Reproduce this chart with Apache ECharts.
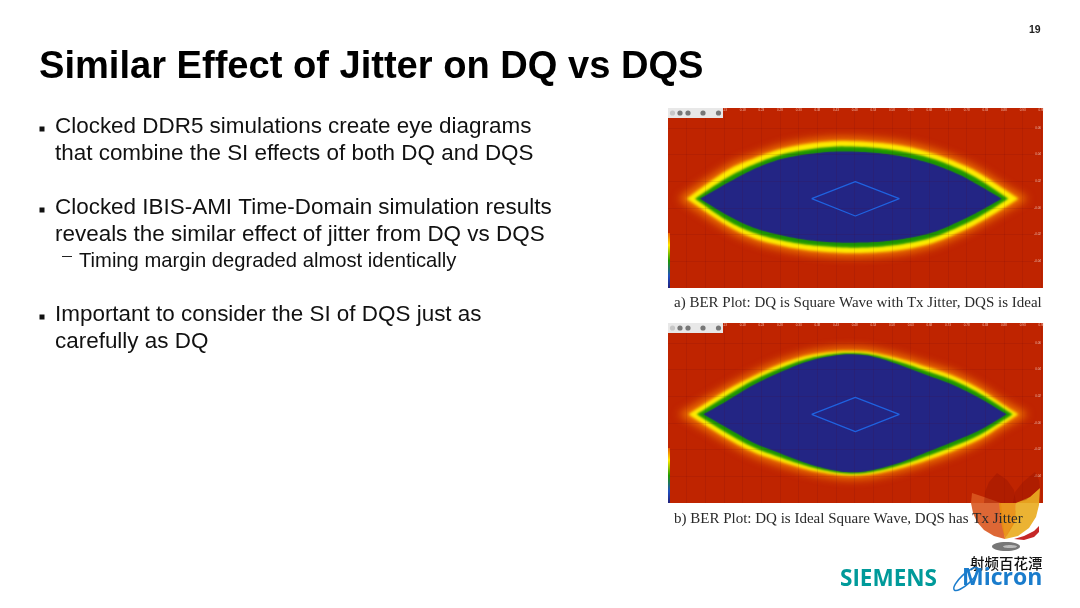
<!DOCTYPE html>
<html><head><meta charset="utf-8">
<style>html,body{margin:0;padding:0;background:#fff}
#p,#c{position:absolute;left:0;top:0;width:1080px;height:608px}
#p{filter:blur(0.5px)}</style>
<script src="https://cdn.jsdelivr.net/npm/echarts@6/dist/echarts.min.js"></script>
</head><body><div id="p"></div><div id="c"></div>
<script>
// Plot a: contour tables [time positions, upper edge, lower edge]
const aOrangeX=[5,150,230,310,390,470,536,610,690,770,850,910,975,1055];
const aOrangeTop=[20,118,152,180,196,204,204,199,188,168,138,108,66,20];
const aOrangeBot=[20,-74,-110,-132,-146,-153,-155,-152,-143,-124,-92,-62,-25,20];
const aYellowX=[30,150,230,310,390,470,536,610,690,770,850,910,975,1025];
const aYellowTop=[20,104,140,168,184,192,192,187,176,155,125,95,53,20];
const aYellowBot=[20,-60,-98,-120,-134,-141,-143,-140,-131,-112,-80,-50,-12,20];
const aGreenX=[55,150,230,310,390,470,536,610,690,770,850,910,995];
const aGreenTop=[20,82,122,151,167,176,176,171,159,139,108,76,20];
const aGreenBot=[20,-45,-82,-104,-118,-125,-127,-124,-114,-96,-63,-33,20];
const aBlueX=[70,150,230,310,390,470,536,610,690,770,850,910,975];
const aBlueTop=[20,66,108,138,153,161,161,156,144,123,91,58,20];
const aBlueBot=[20,-29,-67,-89,-104,-111,-112,-109,-99,-81,-47,-17,20];
const aMaskX=[405,536,668,536,405];
const aMaskY=[20,71,20,-32,20];
// Plot b
const bOrangeX=[5,150,230,310,390,470,530,590,670,750,830,910,975,1055];
const bOrangeTop=[18,103,145,180,205,217,219,214,196,172,146,106,63,18];
const bOrangeBot=[18,-67,-108,-136,-158,-173,-177,-172,-155,-132,-104,-69,-28,18];
const bYellowX=[35,150,230,310,390,470,530,590,670,750,830,910,975,1025];
const bYellowTop=[18,90,132,168,194,206,208,203,184,160,133,93,50,18];
const bYellowBot=[18,-54,-95,-123,-147,-162,-166,-161,-144,-120,-91,-56,-15,18];
const bGreenX=[60,150,230,310,390,470,530,590,670,750,830,910,1008];
const bGreenTop=[18,74,120,156,184,199,202,196,175,148,120,80,18];
const bGreenBot=[18,-38,-81,-111,-137,-155,-160,-154,-135,-108,-78,-43,18];
const bBlueX=[80,150,230,310,390,470,530,590,670,750,830,910,990];
const bBlueTop=[18,58,106,144,176,194,198,191,166,136,106,66,18];
const bBlueBot=[18,-22,-67,-99,-129,-150,-156,-149,-127,-96,-64,-29,18];
const bMaskX=[405,536,668,536,405];
const bMaskY=[18,69,18,-34,18];
// Text
const titleText="Similar Effect of Jitter on DQ vs DQS";
const bullets=[["Clocked DDR5 simulations create eye diagrams",126,1],["that combine the SI effects of both DQ and DQS",153,0],
["Clocked IBIS-AMI Time-Domain simulation results",207,1],["reveals the similar effect of jitter from DQ vs DQS",234,0],
["Important to consider the SI of DQS just as",314,1],["carefully as DQ",341,0]];
const subBullet="Timing margin degraded almost identically";
const captionA="a) BER Plot: DQ is Square Wave with Tx Jitter, DQS is Ideal";
const captionB="b) BER Plot: DQ is Ideal Square Wave, DQS has Tx Jitter";

const SANS='"Liberation Sans",Arial,sans-serif';
// contour colour and softness of its edge; the shape sits off to the side and only its soft shadow is shown
const paint=[['#f07800',8],['#ffee00',3],['#1c9600',2.5],['#232584',1.2]];
const SHIFT=3000;
function spline(pts){
  const out=[];
  for(let i=0;i<pts.length-1;i++){
    const p0=pts[Math.max(i-1,0)],p1=pts[i],p2=pts[i+1],p3=pts[Math.min(i+2,pts.length-1)];
    for(let s=0;s<8;s++){
      const t=s/8,t2=t*t,t3=t2*t;
      out.push([0,1].map(d=>0.5*(2*p1[d]+(p2[d]-p0[d])*t+(2*p0[d]-5*p1[d]+4*p2[d]-p3[d])*t2+(3*p1[d]-p0[d]-3*p2[d]+p3[d])*t3)));
    }
  }
  out.push(pts[pts.length-1]);
  return out;
}
function eye(g,tables){
  return {type:'custom',xAxisIndex:g,yAxisIndex:g,clip:false,silent:true,coordinateSystem:'cartesian2d',
    data:tables.map((t,i)=>[t[0][0],t[1][0],i]),encode:{x:0,y:1},
    renderItem(params,api){
      const i=params.dataIndex,[xs,top,bot]=tables[i],[fill,blur]=paint[i];
      const upper=spline(xs.map((x,k)=>api.coord([x,top[k]])));
      const lower=spline(xs.map((x,k)=>api.coord([x,bot[k]]))).reverse();
      return {type:'polygon',x:-SHIFT,shape:{points:upper.concat(lower)},
        style:{fill,shadowColor:fill,shadowBlur:blur,shadowOffsetX:SHIFT}};
    }};
}
const series=[
  eye(0,[[aOrangeX,aOrangeTop,aOrangeBot],[aYellowX,aYellowTop,aYellowBot],[aGreenX,aGreenTop,aGreenBot],[aBlueX,aBlueTop,aBlueBot]]),
  eye(1,[[bOrangeX,bOrangeTop,bOrangeBot],[bYellowX,bYellowTop,bYellowBot],[bGreenX,bGreenTop,bGreenBot],[bBlueX,bBlueTop,bBlueBot]])];
[[0,aMaskX,aMaskY],[1,bMaskX,bMaskY]].forEach(([g,xs,ys])=>series.push({type:'line',xAxisIndex:g,yAxisIndex:g,silent:true,z:6,
  data:xs.map((x,i)=>[x,ys[i]]),symbol:'none',lineStyle:{color:'#1f62e0',width:1.2}}));

const gridLine={show:true,lineStyle:{color:'rgba(90,0,20,0.1)',width:1},showMaxLine:false,showMinLine:false};
const lab={inside:true,fontSize:3,color:'rgba(255,215,200,0.8)',fontFamily:SANS,showMaxLabel:false,showMinLabel:false};
const xAx=g=>({type:'value',gridIndex:g,position:'top',min:-26,max:1099,interval:56,z:5,axisLine:{show:false},axisTick:{show:false},splitLine:gridLine,
  axisLabel:{...lab,margin:1,formatter:v=>(v/56*0.05).toFixed(2)}});
const yAx=g=>({type:'value',gridIndex:g,position:'right',min:-248,max:292,interval:80,z:5,axisLine:{show:false},axisTick:{show:false},splitLine:gridLine,
  axisLabel:{...lab,margin:2,formatter:v=>(v/4000).toFixed(2)}});

const plotGfx=[];
[108,323].forEach(top=>{
  plotGfx.push({type:'rect',z:-20,silent:true,shape:{x:668,y:top,width:375,height:180},style:{fill:'#bf2400'}});
  plotGfx.push({type:'rect',z:40,silent:true,shape:{x:668,y:top,width:55,height:10},style:{fill:'#e8e8e8'}});
  [[672.5,.3],[680,1],[688,1],[703,1],[718.5,1]].forEach(([x,o])=>plotGfx.push({type:'circle',z:41,silent:true,shape:{cx:x,cy:top+5,r:2.6},style:{fill:'#777',opacity:o}}));
  plotGfx.push({type:'rect',z:40,silent:true,shape:{x:668,y:top+125,width:2,height:55},
    style:{fill:new echarts.graphic.LinearGradient(0,0,0,1,[{offset:0,color:'#e85a00'},{offset:.22,color:'#ffe800'},{offset:.5,color:'#1f9a00'},{offset:.78,color:'#2050c0'},{offset:1,color:'#20207a'}])}});
});
const plots=echarts.init(document.getElementById('p'));
plots.setOption({animation:false,backgroundColor:'#fff',
  grid:[{left:668,top:108,width:375,height:180},{left:668,top:323,width:375,height:180}],
  xAxis:[xAx(0),xAx(1)],yAxis:[yAx(0),yAx(1)],series,graphic:{elements:plotGfx}});

// page furniture
const gfx=[];
const txt=(s,x,y,font,fill,extra)=>gfx.push({type:'text',x,y,z:60,silent:true,style:Object.assign({text:s,font,fill,textAlign:'left',textVerticalAlign:'middle'},extra||{})});
txt(titleText,39,67,'bold 38.1px '+SANS,'#000');
txt('19',1029,30,'bold 10.5px '+SANS,'#222');
bullets.forEach(([s,y,b])=>{txt(s,55,y+1,'22.45px '+SANS,'#111');
  if(b)gfx.push({type:'rect',z:60,silent:true,shape:{x:39.5,y:y+0.5,width:5,height:5},style:{fill:'#111'}});});
gfx.push({type:'rect',z:60,silent:true,shape:{x:62,y:256,width:10,height:1},style:{fill:'#222'}});
txt(subBullet,79,261,'20.2px '+SANS,'#111');
txt(captionA,674,303,'15px "Liberation Serif",serif','#2a2a2a');
txt(captionB,674,519,'15px "Liberation Serif",serif','#2a2a2a');
// flame logo
const poly=(pts,fill,op,z)=>gfx.push({type:'polygon',z:z||50,silent:true,shape:{points:pts},style:{fill,opacity:op}});
poly([[972,493],[971,503],[973,513],[977,522],[984,530],[994,536],[1005,539],[1003,520],[1001,503],[984,497]],'#d9561f',0.9);
poly([[1005,539],[1018,536],[1029,528],[1036,517],[1039,505],[1040,488],[1030,497],[1016,503],[1014,520]],'#e9ad22',0.92);
poly([[1005,539],[1001,522],[999,503],[1016,503],[1015,522]],'#e98e12',0.95);
poly([[997,473],[989,482],[985,492],[984,503],[1016,503],[1014,490],[1007,480]],'#8e1000',0.32,51);
poly([[1035,472],[1023,482],[1015,492],[1013,503],[1026,500],[1040,488],[1039,480]],'#8e1000',0.32,51);
poly([[1014,539],[1024,536],[1034,531],[1039,526],[1039,532],[1034,537],[1024,540]],'#c62828',1);
gfx.push({type:'ellipse',z:50,silent:true,shape:{cx:1006,cy:546.5,rx:14,ry:4.5},style:{fill:'#777'}});
gfx.push({type:'ellipse',z:51,silent:true,shape:{cx:1010,cy:546.5,rx:7,ry:1.6},style:{fill:'#bbb'}});
txt('射频百花潭',970,563,'500 14.5px "Noto Sans CJK SC",sans-serif','#111');
txt('SIEMENS',840,580,'bold 22.5px "Open Sans",'+SANS,'#009a9a');
txt('Micron',962,578,'bold 23px "Open Sans",'+SANS,'#1a7ccc');
gfx.push({type:'ellipse',z:61,silent:true,shape:{cx:0,cy:0,rx:16,ry:5},x:966,y:579,rotation:0.75,style:{fill:'none',stroke:'#1a7ccc',lineWidth:1.5}});
const chart=echarts.init(document.getElementById('c'),null,{renderer:'canvas'});
chart.setOption({animation:false,backgroundColor:'transparent',graphic:{elements:gfx}});
</script></body></html>
